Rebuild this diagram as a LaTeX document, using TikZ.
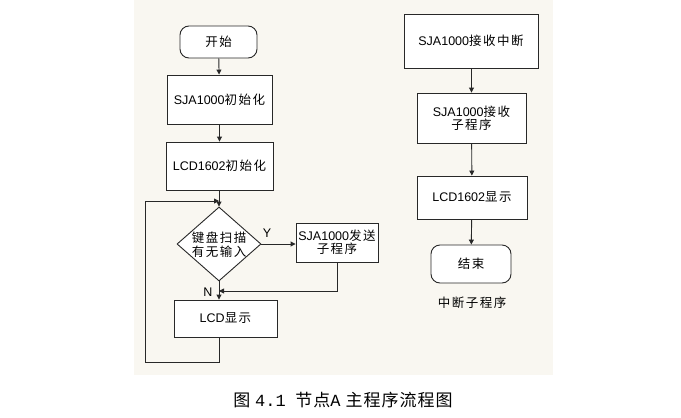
\documentclass[tikz,border=0pt]{standalone}
\usepackage{fontspec}
\usetikzlibrary{arrows.meta,shapes.geometric}
\setmainfont{Liberation Sans}
\newfontfamily\cjk[LetterSpace=12]{Noto Sans CJK SC}
\newfontfamily\cjkcap[LetterSpace=6]{Noto Sans CJK SC}
\newfontfamily\capmono{Liberation Mono}
\definecolor{bgc}{RGB}{249,247,241}
\definecolor{ln}{RGB}{40,40,40}
\tikzset{
  box/.style={draw=ln, fill=white, line width=0.9pt, inner sep=0pt, align=center, font=\fontsize{12.5}{15}\selectfont},
  term/.style={box, rounded corners=9pt},
  arr/.style={draw=ln, line width=0.9pt, -{Triangle[length=5pt,width=5pt]}},
  ln/.style={draw=ln, line width=0.9pt},
  lbl/.style={inner sep=0pt, font=\fontsize{12.5}{14}\selectfont}
}
\begin{document}
\begin{tikzpicture}[x=1pt,y=-1pt]
\useasboundingbox (0,0) rectangle (681,418);
\fill[bgc] (134,0) rectangle (553,375);
% left column
\node[term, minimum width=77, minimum height=32] (start) at (218.5,42) {\cjk 开始};
\node[box, minimum width=105, minimum height=49] (sjainit) at (219.5,99.5) {SJA1000{\cjk 初始化}};
\node[box, minimum width=107, minimum height=48] (lcdinit) at (219.5,166) {LCD1602{\cjk 初始化}};
\coordinate (j) at (219,201);
\node[diamond, draw=ln, fill=white, line width=0.9pt, minimum width=84, minimum height=74, inner sep=0pt] (dec) at (219,244) {};
\node[lbl, align=center, font=\fontsize{12.5}{15}\selectfont] (dectext) at (219,245) {\cjk 键盘扫描\\[-1pt]\cjk 有无输入};
\node[box, minimum width=82, minimum height=39] (send) at (337,242.5) {SJA1000{\cjk 发送}\\[-2pt]{\cjk 子程序}};
\node[box, minimum width=103, minimum height=37] (lcdshow) at (225.5,318.5) {LCD{\cjk 显示}};
\coordinate (m) at (219,291);
\coordinate (c1) at (219,362);
\coordinate (c2) at (145,362);
\coordinate (c3) at (145,201);
\node[lbl] (ylab) at (267,233) {Y};
\node[lbl] (nlab) at (208,292) {N};
\draw[arr] (start) -- (sjainit);
\draw[arr] (sjainit) -- (lcdinit);
\draw[ln] (lcdinit.south -| j) -- (j);
\draw[arr] (j) -- (dec.north);
\draw[arr] (dec.east) -- (send.west |- dec.east);
\draw[arr] (send.south) |- (m);
\draw[arr] (dec.south) -- (lcdshow.north -| dec.south);
\draw[arr] (lcdshow.south -| c1) -- (c1) -- (c2) -- (c3) -- (j);
% right column
\node[box, minimum width=134, minimum height=54] (rint) at (471,41) {SJA1000{\cjk 接收中断}};
\node[box, minimum width=109, minimum height=50] (rsub) at (471.5,118) {SJA1000{\cjk 接收}\\[-2pt]{\cjk 子程序}};
\node[box, minimum width=110, minimum height=43] (rlcd) at (472,197.5) {LCD1602{\cjk 显示}};
\node[term, minimum width=80, minimum height=38] (rend) at (471,264) {\cjk 结束};
\node[lbl] (rcap) at (472,303) {\cjk 中断子程序};
\draw[arr] (rint.south -| rsub) -- (rsub);
\draw[arr] (rsub) -- (rlcd);
\draw[arr] (rlcd) -- (rend);
% caption
\node[inner sep=0pt, font=\fontsize{17}{19}\selectfont] (cap) at (343,400) {\cjkcap 图\ {\capmono 4.1}\ \ 节点{\capmono A}\ 主程序流程图};
\end{tikzpicture}
\end{document}
